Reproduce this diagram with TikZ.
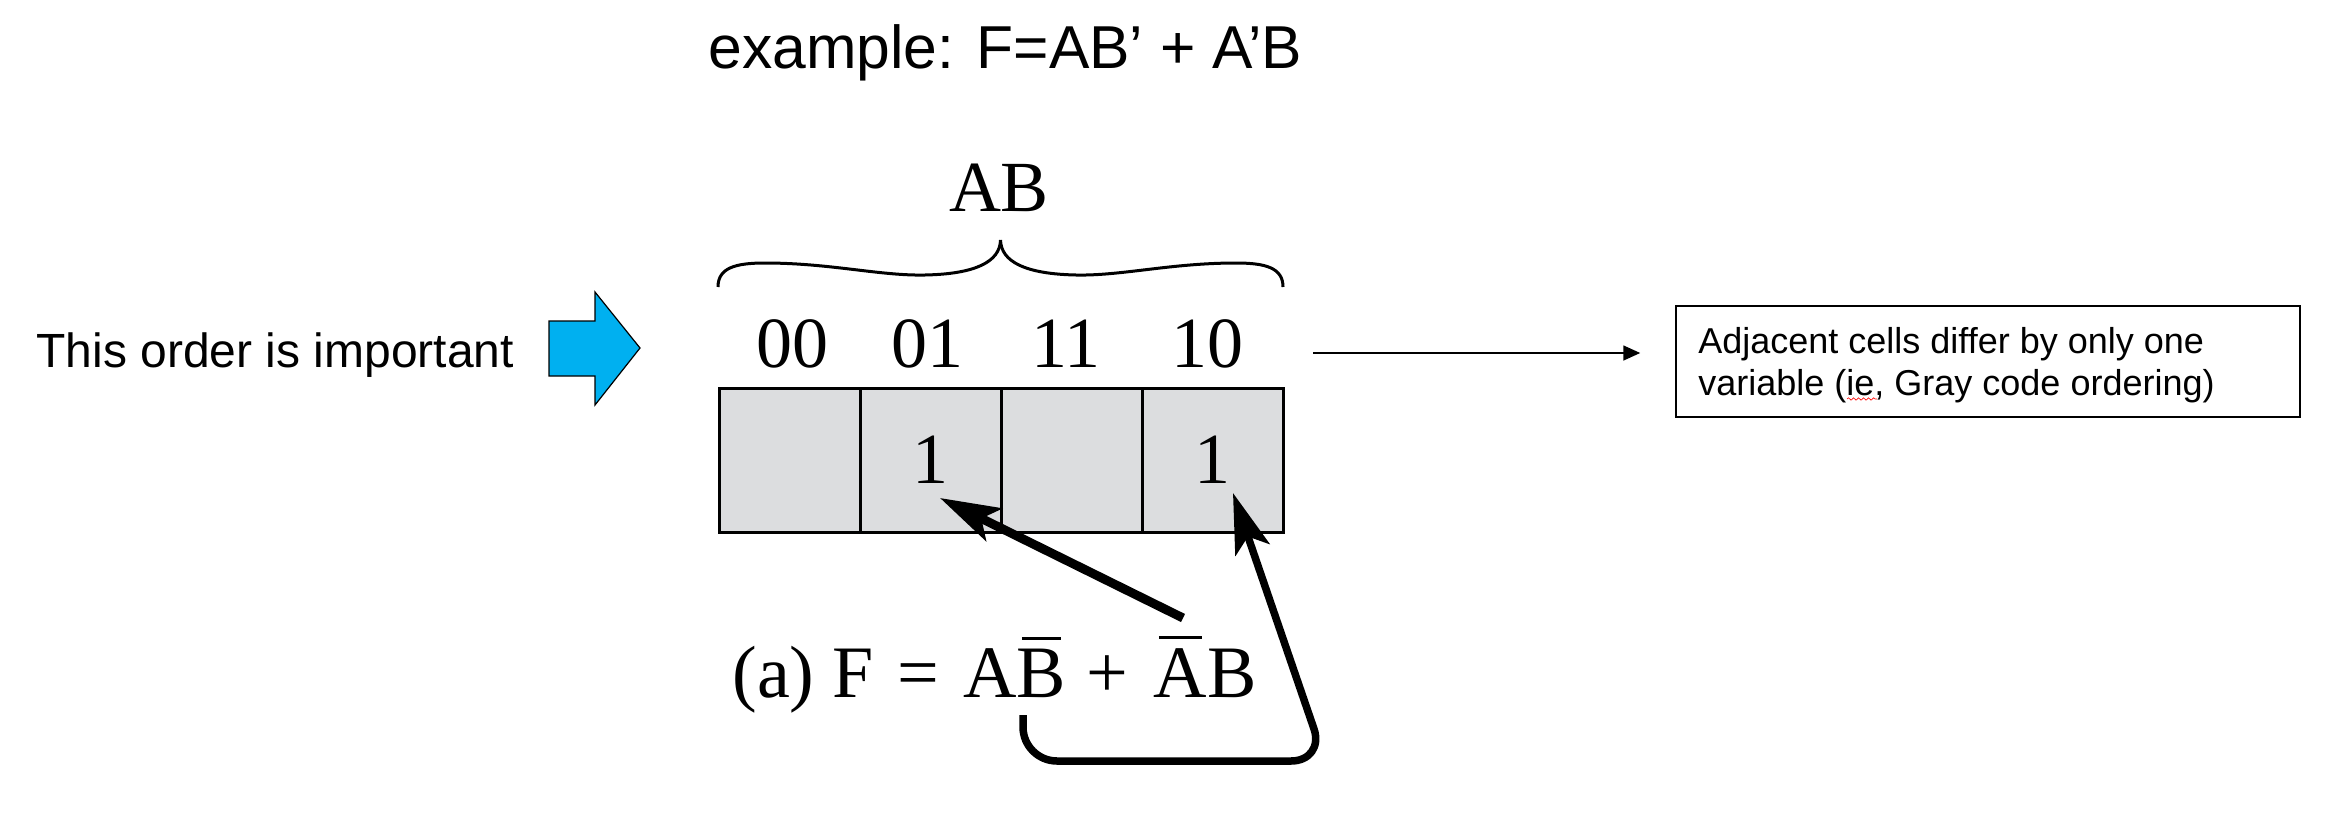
\documentclass[tikz,border=0pt]{standalone}
\usepackage{fontspec}
\setmainfont{Liberation Sans}
\newfontfamily\arialf{Liberation Sans}
\newfontfamily\tnrf{Liberation Serif}
\usetikzlibrary{arrows.meta,decorations.pathmorphing}
\definecolor{kgray}{RGB}{220,221,223}
\definecolor{skyblue}{RGB}{0,176,240}
\newcommand\ovl[1]{\setbox0\hbox{#1}\vbox{\offinterlineskip\hbox to \wd0{\hskip2.5pt\leaders\hrule height1.5pt\hfill\hskip2.5pt}\kern4.5pt\box0}}
\begin{document}
\begin{tikzpicture}[x=0.5pt,y=-0.5pt,
  cell/.style={draw=black, fill=kgray, line width=1.5pt, minimum width=70.5pt, minimum height=72pt, inner sep=0pt, outer sep=0pt, font=\tnrf\fontsize{36}{36}\selectfont},
  collabel/.style={anchor=base, inner sep=0pt, font=\tnrf\fontsize{36}{36}\selectfont},
  sanstext/.style={anchor=base west, inner sep=0pt},
  bigarrow/.style={-{Stealth[length=30pt,width=18pt,inset=7pt]}},
  bracepath/.style={line width=1.5pt},
  notebox/.style={draw=black, line width=0.75pt, minimum width=312pt, minimum height=55.5pt, inner sep=0pt}]
\useasboundingbox (0,0) rectangle (2339,814);

% title
\node[sanstext, font=\arialf\fontsize{30.3}{36}\selectfont] (title) at (708,68) {example: F=AB’ + A’B};

% left text and blue arrow
\node[sanstext, font=\arialf\fontsize{24}{28}\selectfont] (order) at (36,367) {This order is important};
\draw[fill=skyblue, line width=0.6pt] (549,321) -- (595,321) -- (595,292) -- (640,348) -- (595,405) -- (595,376) -- (549,376) -- cycle;

% brace and AB
\draw[bracepath] (718,287) .. controls (718,268) and (735,263) .. (765,263) .. controls (830,263) and (880,276) .. (925,275) .. controls (975,274) and (1000,262) .. (1000.5,240);
\draw[bracepath] (1283,287) .. controls (1283,268) and (1266,263) .. (1236,263) .. controls (1171,263) and (1121,276) .. (1076,275) .. controls (1026,274) and (1001,262) .. (1000.5,240);
\node[collabel] (ab) at (999,211) {AB};

% column labels
\node[collabel] (l00) at (792,367) {00};
\node[collabel] (l01) at (927,367) {01};
\node[collabel] (l11) at (1066,367) {11};
\node[collabel] (l10) at (1207,367) {10};

% cells
\node[cell] (c00) at (789.5,460) {};
\node[cell] (c01) at (930.5,460) {1};
\node[cell] (c11) at (1071.5,460) {};
\node[cell] (c10) at (1212.5,460) {1};

% equation
\node[sanstext, font=\tnrf\fontsize{37}{40}\selectfont] (eq) at (732,697) {(a)\hspace{9pt}F\hspace{12pt}=\hspace{12pt}A\ovl{B}\hspace{10pt}+\hspace{13pt}\ovl{A}B};

% arrows from equation terms to cells
\coordinate (a1s) at (1183,618);
\coordinate (a1t) at (940,498);
\draw[bigarrow, line width=4.5pt] (a1s) -- (a1t);
\coordinate (a2s) at (1023,715);
\coordinate (a2c) at (1325,761);
\coordinate (a2t) at (1233,493);
\draw[bigarrow, line width=3.75pt, rounded corners=17pt] (a2s) |- (a2c) -- (a2t);

% note box
\node[notebox] (note) at (1988,361.5) {};
\node[sanstext, align=left, font=\arialf\fontsize{18}{21}\selectfont] (notetext) at (1698,395) {Adjacent cells differ by only one\\variable (ie, Gray code ordering)};
\draw[red, line width=0.3pt, decorate, decoration={snake, amplitude=0.6pt, segment length=2.5pt}] (1847,399) -- (1877,399);
\coordinate (ls) at (1313,353);
\draw[line width=0.8pt, -{Triangle[length=8.5pt,width=7.5pt]}, shorten >=17.5pt] (ls) -- (ls -| note.west);
\end{tikzpicture}
\end{document}
